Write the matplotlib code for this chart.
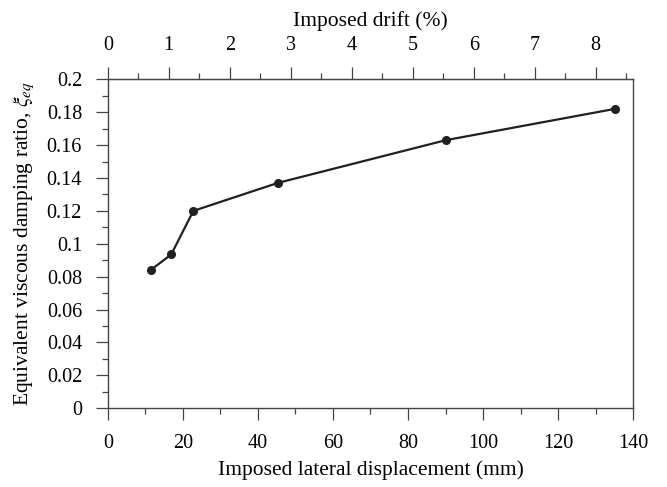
import matplotlib
matplotlib.use("Agg")
import matplotlib.pyplot as plt
from matplotlib.ticker import MultipleLocator

disp_mm = [11.4, 16.9, 22.8, 45.3, 90.1, 135.1]
xi_eq = [0.084, 0.0935, 0.120, 0.137, 0.163, 0.182]
story_height_mm = 16.25  # mm per 1 % drift

plt.rcParams["font.family"] = ["Liberation Serif", "DejaVu Serif"]
plt.rcParams["mathtext.fontset"] = "stix"
plt.rcParams["font.size"] = 14.5
plt.rcParams["axes.labelsize"] = 15.5

fig = plt.figure(figsize=(6.67, 4.87), dpi=100)
ax = fig.add_axes([0.1616, 0.1616, 0.9493 - 0.1616, 0.8372 - 0.1616])

ax.plot(disp_mm, xi_eq, color="#231f20", linewidth=1.6,
        marker="o", markersize=5.5)

ax.set_xlim(0, 140)
ax.set_ylim(0, 0.2)
ax.xaxis.set_major_locator(MultipleLocator(20))
ax.xaxis.set_minor_locator(MultipleLocator(10))
ax.yaxis.set_minor_locator(MultipleLocator(0.01))
ax.set_yticks([i * 0.02 for i in range(11)])
ax.set_yticklabels(["0", "0.02", "0.04", "0.06", "0.08", "0.1",
                    "0.12", "0.14", "0.16", "0.18", "0.2"])

for s in ax.spines.values():
    s.set_color("#444444")
    s.set_linewidth(1.0)

ax.tick_params(which="major", direction="out", length=8.5, width=0.9,
               color="#444444")
ax.tick_params(which="minor", direction="out", length=4.3, width=0.9,
               color="#444444")
ax.tick_params(axis="x", which="major", pad=10)
ax.tick_params(axis="y", which="major", pad=10)

ax.set_xlabel("Imposed lateral displacement (mm)", labelpad=5)
ax.set_ylabel(r"Equivalent viscous damping ratio, $\xi_{eq}$", labelpad=8)

# Top axis in drift
top = ax.secondary_xaxis("top", functions=(lambda x: x / story_height_mm,
                                           lambda d: d * story_height_mm))
top.xaxis.set_major_locator(MultipleLocator(1))
top.xaxis.set_minor_locator(MultipleLocator(0.5))
top.tick_params(which="major", direction="out", length=8.5, width=0.9,
                color="#444444", pad=9)
top.tick_params(which="minor", direction="out", length=4.3, width=0.9,
                color="#444444")
top.spines["top"].set_color("#444444")
top.set_xlabel("Imposed drift (%)", labelpad=7)

fig.savefig("out.png", dpi=100)
